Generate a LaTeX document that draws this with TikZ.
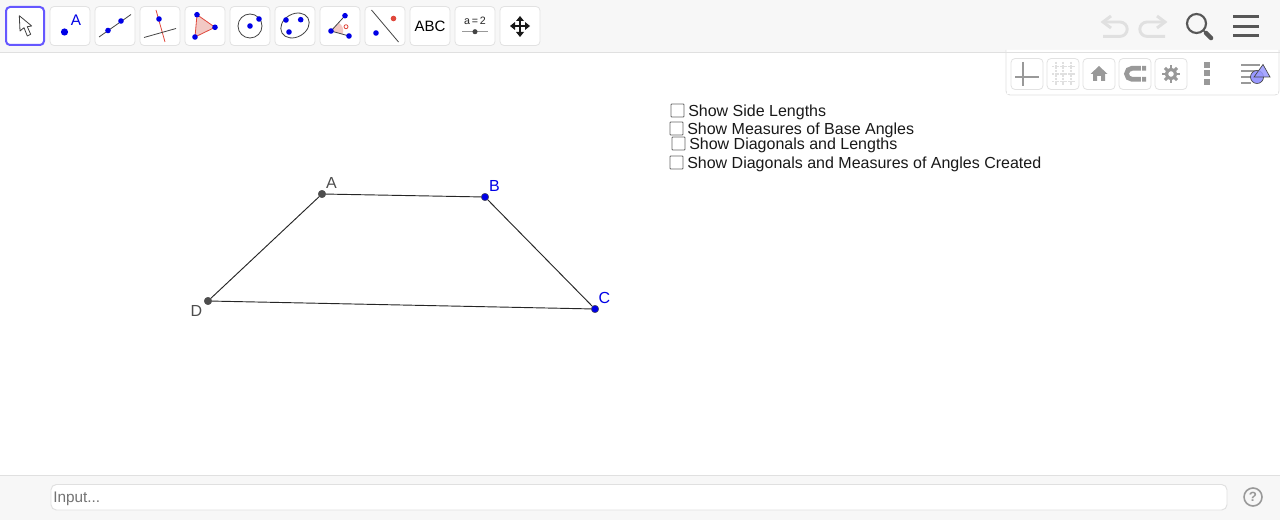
\documentclass[tikz,border=0pt]{standalone}
\usepackage{fontspec}
\setmainfont{Liberation Sans}
\definecolor{barbg}{HTML}{F7F7F7}
\definecolor{barline}{HTML}{E0E0E0}
\definecolor{btnline}{HTML}{E2E2E2}
\definecolor{selblue}{HTML}{6557FF}
\definecolor{geoblue}{HTML}{0000E6}
\definecolor{geored}{HTML}{E0483C}
\definecolor{pinkfill}{HTML}{F2C9C4}
\definecolor{icondark}{HTML}{444444}
\definecolor{icongrey}{HTML}{999999}
\definecolor{ptdark}{HTML}{4D4D4D}
\definecolor{undogrey}{HTML}{E0E0E0}
\definecolor{violetfill}{HTML}{9999FF}
\tikzset{
  x=0.75pt,y=-0.75pt,
  toolbtn/.style={draw=btnline,fill=white,rounded corners=3pt,line width=0.6pt},
  selbtn/.style={draw=selblue,fill=white,rounded corners=3pt,line width=1.5pt},
  dot/.style={circle,fill=geoblue,draw=none,inner sep=0pt,minimum size=4.2pt},
  redline/.style={draw=geored,line width=0.6pt},
  darkline/.style={draw=icondark,line width=0.6pt},
  ptblue/.style={circle,fill=geoblue,draw=black!70,line width=0.35pt,inner sep=0pt,minimum size=5.6pt},
  ptgrey/.style={circle,fill=ptdark,draw=black!70,line width=0.35pt,inner sep=0pt,minimum size=5.6pt},
  seg/.style={draw=black!85,line width=0.7pt},
  ptlabel/.style={font=\fontsize{12}{14}\selectfont,inner sep=0pt},
  chk/.style={draw=black!60,fill=white,rounded corners=0.6pt,line width=0.6pt},
  chktext/.style={anchor=base west,inner sep=0pt,font=\fontsize{12}{14}\selectfont,text=black!90},
  panelbtn/.style={draw=btnline,fill=white,rounded corners=3pt,line width=0.6pt},
}
\begin{document}
\begin{tikzpicture}
\useasboundingbox (0,0) rectangle (1280,520);
\fill[white] (0,0) rectangle (1280,520);
% top bar
\fill[barbg] (0,0) rectangle (1280,52);
\draw[barline,line width=0.75pt] (0,52.5) -- (1280,52.5);
% bottom bar
\fill[barbg] (0,475) rectangle (1280,520);
\draw[barline,line width=0.75pt] (0,475.5) -- (1280,475.5);
% toolbar buttons
\draw[selbtn] (6,7) rectangle (44,45);
\foreach \bx in {50,95,140,185,230,275,320,365,410,455,500}
  \draw[toolbtn] (\bx,6.5) rectangle (\bx+40,45.5);
% tool 1 arrow
\draw[draw=black!75,fill=white,line width=0.6pt,line join=round] (19.3,15.7) -- (20,31) -- (24,27.7) -- (27.3,36) -- (30.7,34.3) -- (27.3,26.7) -- (31.7,26) -- cycle;
% tool 2 point
\node[dot,minimum size=5.4pt] (t2p) at (64.5,32) {};
\node[inner sep=0pt,text=geoblue,font=\fontsize{11.5}{13}\selectfont] (t2a) at (76,20) {A};
% tool 3 line
\draw[darkline] (99,37) -- (131,14.5);
\node[dot] (t3a) at (108,30.5) {};
\node[dot] (t3b) at (121,21) {};
% tool 4 perpendicular
\draw[redline] (156,10) -- (165,42);
\draw[darkline] (144,37.5) -- (176,28.5);
\node[dot] (t4a) at (159,19) {};
% tool 5 polygon
\draw[redline,fill=pinkfill] (197,14.7) -- (215,27.3) -- (195,37) -- cycle;
\node[dot] (t5a) at (197,14.7) {};
\node[dot] (t5b) at (215,27.3) {};
\node[dot] (t5c) at (195,37) {};
% tool 6 circle
\draw[darkline] (250,26) circle (12);
\node[dot] (t6a) at (250,26) {};
\node[dot] (t6b) at (259,19) {};
% tool 7 conic
\draw[darkline,rotate around={30:(295,25.5)}] (295,25.5) ellipse (15 and 11.5);
\node[dot] (t7a) at (286,20) {};
\node[dot] (t7b) at (300.7,19.7) {};
\node[dot] (t7c) at (289,32) {};
% tool 8 angle
\fill[pinkfill] (330.7,30.7) -- (339,23) .. controls (343,26) and (344,30) .. (342.7,34) -- cycle;
\draw[darkline] (345,15.7) -- (331,31) -- (349,36);
\draw[geored,line width=0.6pt] (346,26.7) circle (2);
\node[dot] (t8a) at (331,31) {};
\node[dot] (t8b) at (345,15.7) {};
\node[dot] (t8c) at (349,36) {};
% tool 9 reflect
\draw[darkline] (371.5,10) -- (398.5,42);
\node[dot] (t9a) at (376,33) {};
\node[dot,fill=geored] (t9b) at (393.5,18.5) {};
% tool 10 text
\node[inner sep=0pt,font=\fontsize{11.25}{13}\selectfont] (t10) at (430,26) {ABC};
% tool 11 slider
\node[inner sep=0pt,font=\fontsize{8}{10}\selectfont,text=black!85] (t11) at (475,21) {a\,=\,2};
\draw[icongrey,line width=0.8pt] (462,31.7) -- (488,31.7);
\node[dot,fill=icondark,minimum size=3.8pt] (t11d) at (475,31.7) {};
% tool 12 move
\draw[black!90,line width=0.8pt] (512,26) -- (528,26) (520,18) -- (520,34);
\fill[black!90] (510,26) -- (515,22) -- (515,30) -- cycle;
\fill[black!90] (530,26) -- (525,22) -- (525,30) -- cycle;
\fill[black!90] (520,16) -- (516,21) -- (524,21) -- cycle;
\fill[black!90] (520,37) -- (516,32) -- (524,32) -- cycle;
% undo / redo
\draw[undogrey,line width=2.2pt] (1104,22) -- (1120,22) arc (-90:90:7.2) -- (1103,36.4);
\draw[undogrey,line width=2.2pt] (1111,16) -- (1103,22) -- (1111,28);
\draw[undogrey,line width=2.2pt] (1164,22) -- (1147,22) arc (270:90:7.2) -- (1165,36.4);
\draw[undogrey,line width=2.2pt] (1157,16) -- (1165,22) -- (1157,28);
% search
\draw[icondark!90,line width=1.6pt] (1196.5,23.5) circle (9.5);
\draw[icondark!90,line width=1.2pt] (1203.5,30.5) -- (1206,33);
\draw[icondark!90,line width=3.4pt,line cap=round] (1206,33) -- (1211,38);
% menu
\fill[icondark!90] (1233,15.5) rectangle (1259,18.5);
\fill[icondark!90] (1233,25) rectangle (1259,28);
\fill[icondark!90] (1233,34.5) rectangle (1259,37.5);
% style panel
\draw[barline,fill=white,rounded corners=3pt,line width=0.6pt] (1006,50) -- (1006,95) -- (1279,95) -- (1279,50);
\fill[white] (1007,53) rectangle (1278,94);
\draw[barline,line width=0.75pt] (1000,52.5) -- (1280,52.5);
\foreach \bx in {1011,1047,1083,1119,1155}
  \draw[panelbtn] (\bx,58.5) rectangle (\bx+32,89.5);
% axes
\draw[icongrey,line width=0.8pt] (1023,62) -- (1023,86) (1015,77) -- (1039,77);
% grid
\draw[barline,line width=1pt,dash pattern=on 1.5pt off 0.5pt]
  (1056,62) -- (1056,86) (1063,62) -- (1063,86) (1071,62) -- (1071,86)
  (1052,66.7) -- (1075,66.7) (1052,74) -- (1075,74) (1052,81.7) -- (1075,81.7);
% home
\fill[icongrey] (1099,66) -- (1107.5,74) -- (1105,74) -- (1105,81) -- (1101,81) -- (1101,76) -- (1097,76) -- (1097,81) -- (1093,81) -- (1093,74) -- (1090.5,74) -- cycle;
% magnet
\draw[icongrey,line width=3.6pt] (1146,68.3) -- (1132,68.3) arc (270:90:5.5) -- (1146,79.3);
\fill[white] (1141,65) rectangle (1142,83);
% gear
\draw[icongrey,line width=2.4pt] (1171,74) circle (4.6);
\foreach \a in {0,45,...,315}
  \draw[icongrey,line width=2.2pt] (1171,74) ++(\a:5) -- ++(\a:3.6);
% more
\fill[icongrey] (1204,62.5) rectangle (1210,68.5);
\fill[icongrey] (1204,70.5) rectangle (1210,76.5);
\fill[icongrey] (1204,79) rectangle (1210,85);
% style bar toggle
\draw[icongrey,line width=1pt] (1241,65) -- (1260,65) (1241,71) -- (1257,71) (1241,77) -- (1251,77) (1241,83) -- (1251,83);
\fill[violetfill] (1257,77) circle (6.5);
\draw[icondark,line width=0.5pt] (1257,77) circle (6.5);
\draw[icondark,line width=0.5pt,fill=violetfill,fill opacity=0.85] (1263,64.5) -- (1270,77) -- (1254,77) -- cycle;
% checkboxes
\draw[chk] (671,104) rectangle (684,117);
\node[chktext] (c1) at (688,116.5) {Show Side Lengths};
\draw[chk] (670,122) rectangle (683,135);
\node[chktext] (c2) at (687,134.5) {Show Measures of Base Angles};
\draw[chk] (672,137) rectangle (685,150);
\node[chktext] (c3) at (689,149.5) {Show Diagonals and Lengths};
\draw[chk] (670,156) rectangle (683,169);
\node[chktext] (c4) at (687,168.5) {Show Diagonals and Measures of Angles Created};
% quadrilateral
\node[ptgrey] (A) at (322,194) {};
\node[ptblue] (B) at (485,197) {};
\node[ptblue] (C) at (595,309) {};
\node[ptgrey] (D) at (208,301) {};
\draw[seg] (A) -- (B);
\draw[seg] (B) -- (C);
\draw[seg] (C) -- (D);
\draw[seg] (D) -- (A);
\node[ptlabel,text=ptdark] (la) at (331.5,183) {A};
\node[ptlabel,text=geoblue] (lb) at (494.5,185.5) {B};
\node[ptlabel,text=geoblue] (lc) at (604.5,297.5) {C};
\node[ptlabel,text=ptdark] (ld) at (196.5,311) {D};
% input bar
\draw[barline,fill=white,rounded corners=4pt,line width=0.7pt] (51,484.5) rectangle (1227,510);
\node[anchor=base west,inner sep=0pt,text=black!55,font=\fontsize{11.5}{14}\selectfont] (inp) at (53,502.5) {Input...};
\draw[icongrey,line width=1.2pt] (1253,497) circle (9);
\node[inner sep=0pt,text=icongrey,font=\fontsize{10}{12}\selectfont\bfseries] (help) at (1253,497) {?};
\end{tikzpicture}
\end{document}
